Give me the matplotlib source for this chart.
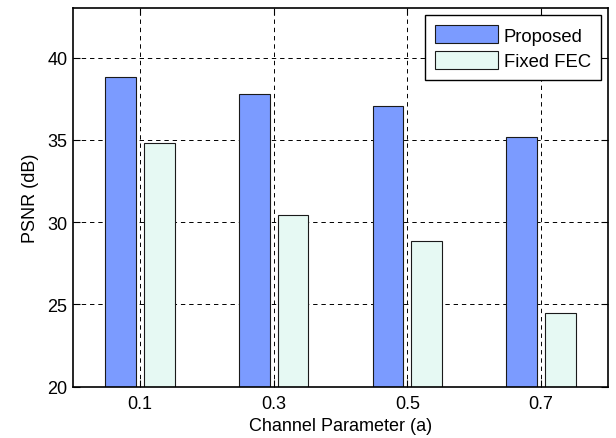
import numpy as np
import matplotlib.pyplot as plt

plt.rcParams['font.family'] = ['Liberation Sans', 'DejaVu Sans']

# PSNR for each channel parameter
channel_param = [0.1, 0.3, 0.5, 0.7]
psnr_proposed = [38.85, 37.8, 37.05, 35.15]
psnr_fixed_fec = [34.8, 30.4, 28.85, 24.5]
series_names = ['Proposed', 'Fixed FEC']

BAR_W = 0.046
OFFSET = 0.029

fig = plt.figure(figsize=(6.16, 4.39), dpi=100)
ax = fig.add_axes([0.1185, 0.1173, 0.9870 - 0.1185, 0.9788 - 0.1173])

x = np.array(channel_param)
ax.bar(x - OFFSET, psnr_proposed, BAR_W, color='#7b9bff',
       edgecolor='#1a1a1a', linewidth=0.8, label=series_names[0], zorder=3)
ax.bar(x + OFFSET, psnr_fixed_fec, BAR_W, color='#e6f9f3',
       edgecolor='#1a1a1a', linewidth=0.8, label=series_names[1], zorder=3)

ax.set_xlim(0, 0.8)
ax.set_ylim(20, 43)
ax.set_xticks(channel_param)
ax.set_xticklabels([str(v) for v in channel_param])
ax.set_yticks([20, 25, 30, 35, 40])

ax.grid(True, color='black', linestyle=(0, (4.5, 4)), linewidth=0.7)
ax.set_axisbelow(True)
ax.tick_params(direction='in', length=5, width=0.8, labelsize=13,
               top=True, right=True)
ax.tick_params(axis='x', pad=6)
ax.tick_params(axis='y', pad=4)
for s in ax.spines.values():
    s.set_linewidth(1.2)
    s.set_zorder(5)

ax.set_xlabel('Channel Parameter (a)', fontsize=13, labelpad=4)
ax.set_ylabel('PSNR (dB)', fontsize=13, labelpad=6)

leg = ax.legend(loc='upper right', fontsize=13.3, fancybox=False,
                framealpha=1, edgecolor='black', handlelength=3.4,
                handleheight=1.1, handletextpad=0.3, borderpad=0.55,
                labelspacing=0.35, borderaxespad=0.38)
leg.get_frame().set_linewidth(1.0)
leg.set_zorder(6)

fig.savefig('out.png', dpi=100)
